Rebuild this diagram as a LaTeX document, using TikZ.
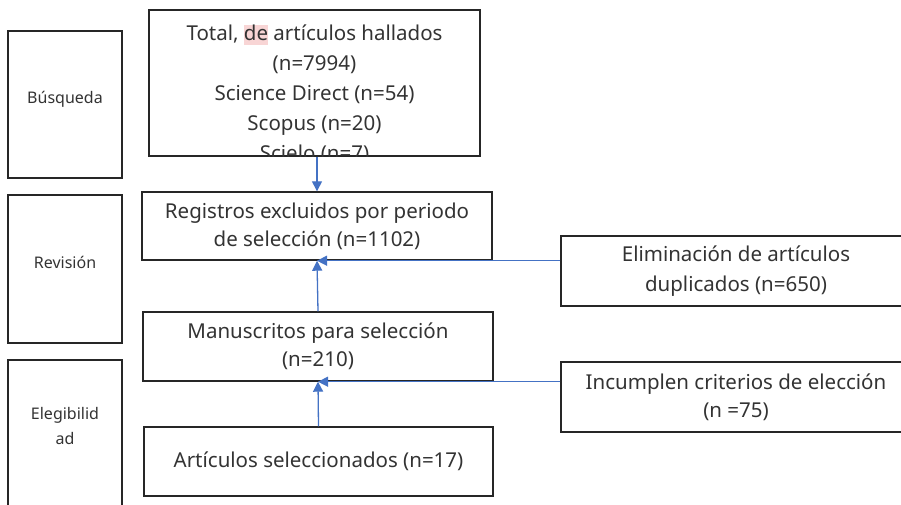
\documentclass[tikz,border=0pt]{standalone}
\usepackage{fontspec}
\setmainfont{Noto Sans}
\usetikzlibrary{positioning,arrows.meta}

\definecolor{borde}{HTML}{262626}
\definecolor{flujoazul}{HTML}{4472C4}
\definecolor{marca}{HTML}{F8D5D5}
\definecolor{texto}{HTML}{333333}

\newcommand{\marcado}[1]{{\setlength{\fboxsep}{0pt}\colorbox{marca}{\vphantom{Tg}#1}}}

\tikzset{
  fase/.style={draw=borde,line width=1.4pt,text=texto,align=center,minimum width=114pt,text depth=14pt,font=\fontsize{16}{25}\selectfont},
  paso/.style={draw=borde,line width=1.4pt,text=texto,align=center,inner sep=0pt,font=\fontsize{20.5}{28}\selectfont},
  flujo/.style={draw=flujoazul,line width=1.3pt,-{Triangle[length=10pt,width=10pt]}},
}

\begin{document}
\begin{tikzpicture}[x=1pt,y=-1pt]
    \clip (0,0) rectangle (901,504);

    % fases
    \node[fase,minimum height=147pt] (busq) at (65,104.5) {Búsqueda};
    \node[fase,minimum height=148pt] (revi) at (65,269) {Revisión};
    \node[fase,minimum height=146pt] (eleg) at (65,433) {Elegibilid\\ad};

    % pasos
    \node[paso,minimum width=331pt,minimum height=146pt] (total) at (314.5,83) {};
    \begin{scope}
        \clip (total.north west) rectangle (total.south east);
        \node[anchor=north,align=center,text=texto,inner sep=0pt,font=\fontsize{20.5}{30}\selectfont] (totaltxt)
            at ([yshift=-15pt]total.north)
            {Total, \marcado{de} artículos hallados\\(n=7994)\\Science Direct (n=54)\\Scopus (n=20)\\Scielo (n=7)};
    \end{scope}

    \node[paso,minimum width=350pt,minimum height=68pt] (regis) at (317,226) {Registros excluidos por periodo\\de selección (n=1102)};
    \node[paso,minimum width=350pt,minimum height=69pt] (manus) at (318,346.5) {Manuscritos para selección\\(n=210)};
    \node[paso,minimum width=349pt,minimum height=69pt] (selec) at (318.5,461.5) {Artículos seleccionados (n=17)};

    \node[paso,minimum width=350pt,minimum height=70pt,font=\fontsize{20.5}{30}\selectfont] (elim) at (736,271) {Eliminación de artículos\\duplicados (n=650)};
    \node[paso,minimum width=350pt,minimum height=70pt] (incum) at (736,397) {Incumplen criterios de elección\\(n =75)};

    \draw[flujo] (regis.north |- total.south) -- (regis.north);
    \draw[flujo] (manus.north) -- (regis.south);
    \draw[flujo] (elim.west |- regis.south) -- (regis.south);
    \draw[flujo] (selec.north) -- (manus.south);
    \draw[flujo] (incum.west |- manus.south) -- (manus.south);
\end{tikzpicture}
\end{document}
